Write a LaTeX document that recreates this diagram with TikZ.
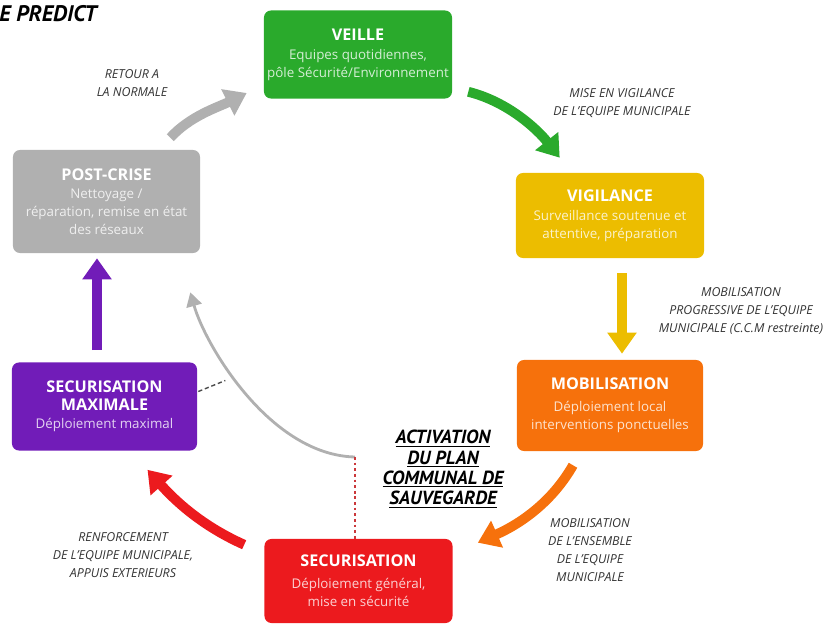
\documentclass[tikz,border=0pt]{standalone}
\usepackage{fontspec}
\setmainfont{Open Sans}
\newfontfamily\labelfont{PT Sans}
\usetikzlibrary{arrows.meta, calc, positioning}
\definecolor{veillegreen}{RGB}{42,170,44}
\definecolor{vigyellow}{RGB}{236,189,0}
\definecolor{moborange}{RGB}{246,113,12}
\definecolor{secred}{RGB}{236,26,30}
\definecolor{maxpurple}{RGB}{113,28,184}
\definecolor{postgray}{RGB}{176,176,176}
\tikzset{phase/.style={rectangle, rounded corners=5pt, fill=#1, text=white!80!#1, align=center,
    inner sep=1pt, minimum width=4.7cm, minimum height=2.2cm, font=\fontsize{9.5}{12.7}\selectfont}}
\tikzstyle{flow}=[line width=7pt, -{Triangle[length=15pt,width=20pt]}]
\tikzstyle{back}=[line width=2pt, -{Triangle[length=10pt,width=11pt]}]
\tikzstyle{note}=[align=center, text=black!80, font=\itshape\fontsize{8.8}{12.7}\selectfont]
\tikzstyle{plan}=[align=center, text=black, font=\labelfont\bfseries\itshape\fontsize{13.5}{14.5}\selectfont]
\newcommand{\phasetitle}[1]{{\color{white}\fontsize{11.5}{14}\selectfont\bfseries #1}}

\begin{document}
\begin{tikzpicture}[x=0.025cm, y=-0.025cm]
	\useasboundingbox (0,0) rectangle (836,624);
	% phases
	\node[phase=veillegreen] (veille) at (358,54.5) {\phasetitle{VEILLE}\\[1pt] Equipes quotidiennes,\\ pôle Sécurité/Environnement};
	\node[phase=vigyellow, minimum height=2.125cm] (vigilance) at (610,215.5) {\phasetitle{VIGILANCE}\\[1pt] Surveillance soutenue et\\ attentive, préparation};
	\node[phase=moborange, minimum width=4.65cm, minimum height=2.275cm] (mobilisation) at (610,405.5) {\phasetitle{MOBILISATION}\\[3pt] Déploiement local\\ interventions ponctuelles};
	\node[phase=secred, minimum height=2.1cm] (securisation) at (358.5,581) {\phasetitle{SECURISATION}\\[3pt] Déploiement général,\\ mise en sécurité};
	\node[phase=maxpurple, minimum width=4.625cm] (secmax) at (104.5,406.5) {\phasetitle{SECURISATION}\\ \phasetitle{MAXIMALE}\\ Déploiement maximal};
	\node[phase=postgray, minimum width=4.675cm, minimum height=2.575cm] (postcrise) at (106.5,201.5) {\phasetitle{POST-CRISE}\\ Nettoyage /\\ réparation, remise en état\\ des réseaux};

	% cycle
	\draw[flow, veillegreen] ([shift={(16,-7)}]veille.south east) .. controls +(40,10) and +(-22,-28) .. ([shift={(44,-15)}]vigilance.north west);
	\draw[flow, vigyellow] ([shift={(12,15)}]vigilance.south) -- ([shift={(12,-6)}]mobilisation.north);
	\draw[flow, moborange] ([shift={(-37,14)}]mobilisation.south) .. controls +(-20,35) and +(45,-20) .. ([shift={(25,4)}]securisation.north east);
	\draw[flow, secred] ([shift={(-20,6)}]securisation.north west) .. controls +(-45,-20) and +(25,28) .. ([shift={(43,19)}]secmax.south);
	\draw[flow, maxpurple] ([shift={(-7.5,-12)}]secmax.north) -- ([shift={(-9.5,5)}]postcrise.south);
	\draw[flow, postgray] ([shift={(-30,-12)}]postcrise.north east) .. controls +(20,-22) and +(-28,14) .. ([shift={(-17,38.5)}]veille.west);

	% retour direct
	\coordinate (pcs) at (355,457);
	\draw[back, postgray] (pcs) .. controls +(-85,-2) and +(15,53) .. ([shift={(-10,39)}]postcrise.south east);
	\draw[secred!70!gray, line width=1pt, dash pattern=on 2pt off 2pt] (pcs) -- (pcs |- securisation.north);
	\draw[black!70, line width=1pt, dash pattern=on 3pt off 2pt] ([shift={(1,-15)}]secmax.east) -- +(27,-11);

	% labels
	\node[anchor=west, inner sep=0pt, font=\labelfont\bfseries\itshape\fontsize{16}{18}\selectfont] (titre) at (-1,14) {E PREDICT};
	\node[note] (retour) at (132,83.5) {RETOUR A\\LA NORMALE};
	\node[note] (misevigil) at (622,103) {MISE EN VIGILANCE\\DE L'EQUIPE MUNICIPALE};
	\node[note] (progressive) at (741,311) {MOBILISATION\\PROGRESSIVE DE L'EQUIPE\\MUNICIPALE (C.C.M restreinte)};
	\node[note] (ensemble) at (590,550) {MOBILISATION\\DE L'ENSEMBLE\\DE L'EQUIPE\\MUNICIPALE};
	\node[note] (renfort) at (123,555) {RENFORCEMENT\\DE L'EQUIPE MUNICIPALE,\\APPUIS EXTERIEURS};
	\node[plan] (activation) at (443,469) {\underline{ACTIVATION}\\\underline{DU PLAN}\\\underline{COMMUNAL DE}\\\underline{SAUVEGARDE}};
\end{tikzpicture}
\end{document}
